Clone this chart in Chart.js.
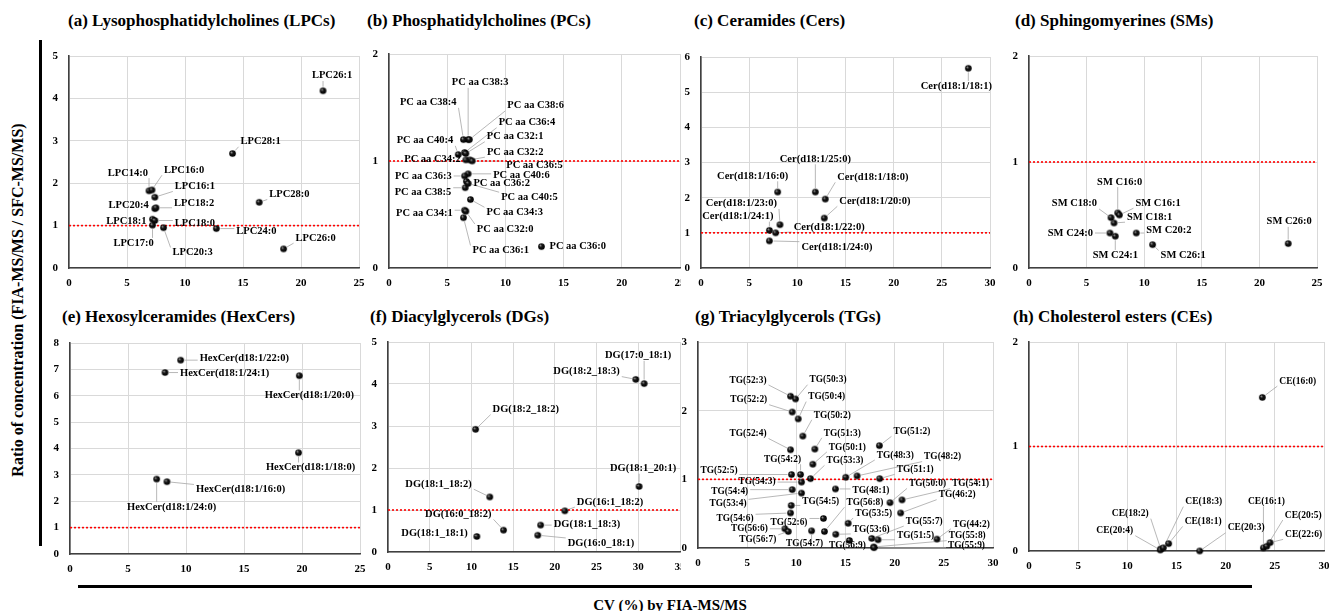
<!DOCTYPE html>
<html>
<head>
<meta charset="utf-8">
<script src="https://cdn.jsdelivr.net/npm/chart.js@4.4.1/dist/chart.umd.min.js"></script>
<style>
    body { margin: 0; background: #fff; width: 1329px; height: 611px; overflow: hidden; position: relative; font-family: "Liberation Serif", serif; }
    .ttl { position: absolute; font-weight: bold; font-size: 17px; white-space: nowrap; line-height: 20px; color: #000; }
    canvas.p { position: absolute; }
    .ax { position: absolute; font-weight: bold; font-size: 15px; white-space: nowrap; color: #000; }
    .bar { position: absolute; background: #000; }
</style>
</head>
<body>

<div class="ttl" style="left:68px;top:11px">(a) Lysophosphatidylcholines (LPCs)</div>
<div class="ttl" style="left:367px;top:11px">(b) Phosphatidylcholines (PCs)</div>
<div class="ttl" style="left:694px;top:11px">(c) Ceramides (Cers)</div>
<div class="ttl" style="left:1015px;top:11px">(d) Sphingomyerines (SMs)</div>
<div class="ttl" style="left:62px;top:307px">(e) Hexosylceramides (HexCers)</div>
<div class="ttl" style="left:370px;top:307px">(f) Diacylglycerols (DGs)</div>
<div class="ttl" style="left:695px;top:307px">(g) Triacylglycerols (TGs)</div>
<div class="ttl" style="left:1013px;top:307px">(h) Cholesterol esters (CEs)</div>

<div class="bar" style="left:39px;top:40px;width:3px;height:506px"></div>
<div class="bar" style="left:78px;top:585px;width:1174px;height:3px"></div>
<div class="ax" style="left:18px;top:300px;font-size:16px;transform:translate(-50%,-50%) rotate(-90deg)">Ratio of concentration (FIA-MS/MS / SFC-MS/MS)</div>
<div class="ax" style="left:670px;top:605px;transform:translate(-50%,-50%)">CV (%) by FIA-MS/MS</div>

<canvas class="p" id="pa"></canvas>
<canvas class="p" id="pb"></canvas>
<canvas class="p" id="pc"></canvas>
<canvas class="p" id="pd"></canvas>
<canvas class="p" id="pe"></canvas>
<canvas class="p" id="pf"></canvas>
<canvas class="p" id="pg"></canvas>
<canvas class="p" id="ph"></canvas>

<script>
// ---- data (x = CV %, y = ratio FIA / SFC) ----
const refRatio = 1;

const lpcNames = ['LPC26:1','LPC28:1','LPC28:0','LPC26:0','LPC24:0','LPC14:0','LPC16:0','LPC16:1','LPC20:4','LPC18:2','LPC18:1','LPC18:0','LPC17:0','LPC20:3'];
const lpcCV = [21.9, 14.1, 16.4, 18.5, 12.7, 6.9, 7.15, 7.4, 7.4, 7.5, 7.2, 7.4, 7.2, 8.15];
const lpcRatio = [4.18, 2.70, 1.55, 0.45, 0.93, 1.82, 1.84, 1.67, 1.40, 1.42, 1.15, 1.12, 1.01, 0.95];

const pcNames = ['PC aa C38:3','PC aa C38:4','PC aa C38:6','PC aa C36:4','PC aa C32:1','PC aa C40:4','PC aa C32:2','PC aa C34:2','PC aa C36:5','PC aa C40:6','PC aa C36:3','PC aa C36:2','PC aa C38:5','PC aa C40:5','PC aa C34:3','PC aa C34:1','PC aa C32:0','PC aa C36:1','PC aa C36:0'];
const pcCV = [6.8, 6.4, 6.9, 6.5, 6.6, 5.95, 6.95, 6.6, 7.15, 6.8, 6.5, 6.65, 6.55, 6.8, 7.0, 6.5, 6.6, 6.4, 13.1];
const pcRatio = [1.20, 1.20, 1.20, 1.08, 1.07, 1.06, 1.01, 1.01, 1.00, 0.88, 0.86, 0.81, 0.75, 0.79, 0.64, 0.54, 0.53, 0.47, 0.20];

const cerNames = ['Cer(d18:1/18:1)','Cer(d18:1/25:0)','Cer(d18:1/16:0)','Cer(d18:1/18:0)','Cer(d18:1/20:0)','Cer(d18:1/23:0)','Cer(d18:1/24:1)','Cer(d18:1/22:0)','Cer(d18:1/24:0)'];
const cerCV = [27.75, 11.87, 7.96, 12.9, 12.8, 8.2, 7.1, 7.75, 7.1];
const cerRatio = [5.68, 2.16, 2.16, 1.96, 1.42, 1.23, 1.07, 1.00, 0.77];

const smNames = ['SM C16:0','SM C16:1','SM C18:0','SM C18:1','SM C24:0','SM C24:1','SM C20:2','SM C26:1','SM C26:0'];
const smCV = [7.7, 7.85, 7.12, 7.38, 7.03, 7.49, 9.31, 10.73, 22.5];
const smRatio = [0.52, 0.50, 0.475, 0.425, 0.33, 0.30, 0.33, 0.22, 0.23];

const hexNames = ['HexCer(d18:1/22:0)','HexCer(d18:1/24:1)','HexCer(d18:1/20:0)','HexCer(d18:1/18:0)','HexCer(d18:1/24:0)','HexCer(d18:1/16:0)'];
const hexCV = [9.54, 8.19, 19.77, 19.7, 7.47, 8.36];
const hexRatio = [7.35, 6.88, 6.76, 3.84, 2.84, 2.74];

const dgNames = ['DG(17:0_18:1)','DG(18:2_18:3)','DG(18:2_18:2)','DG(18:1_20:1)','DG(18:1_18:2)','DG(16:1_18:2)','DG(16:0_18:2)','DG(18:1_18:3)','DG(18:1_18:1)','DG(16:0_18:1)'];
const dgCV = [30.7, 29.7, 10.5, 30.1, 12.2, 21.2, 13.85, 18.3, 10.65, 17.95];
const dgRatio = [4.01, 4.11, 2.92, 1.56, 1.31, 0.98, 0.52, 0.64, 0.37, 0.40];

const tgNames = ['TG(52:3)','TG(50:3)','TG(52:2)','TG(50:4)','TG(50:2)','TG(52:4)','TG(51:3)','TG(50:1)','TG(54:2)','TG(53:3)',
    'TG(52:5)','TG(54:3)','TG(54:4)','TG(53:4)','TG(54:5)','TG(54:6)','TG(52:6)','TG(56:6)','TG(56:7)','TG(54:7)',
    'TG(56:8)','TG(53:6)','TG(56:9)','TG(53:5)','TG(48:3)','TG(48:2)','TG(51:2)','TG(51:1)','TG(48:1)','TG(50:0)',
    'TG(54:1)','TG(46:2)','TG(55:7)','TG(51:5)','TG(44:2)','TG(55:8)','TG(55:9)'];
const tgCV = [9.41, 9.92, 9.58, 10.19, 10.66, 9.41, 11.88, 11.68, 10.43, 11.44,
    9.51, 10.53, 9.58, 10.53, 9.48, 9.41, 12.76, 8.84, 9.18, 11.55,
    12.86, 14.01, 15.4, 15.27, 15.03, 16.18, 18.45, 18.48, 13.98, 19.53,
    20.75, 20.61, 17.67, 18.31, 24.3, 17.87, 17.9];
const tgRatio = [2.21, 2.17, 1.98, 1.88, 1.63, 1.43, 1.44, 1.22, 1.07, 1.01,
    1.07, 0.96, 0.85, 0.80, 0.62, 0.51, 0.43, 0.28, 0.24, 0.25,
    0.24, 0.20, 0.11, 0.36, 1.03, 1.05, 1.49, 1.01, 0.86, 0.66,
    0.70, 0.51, 0.14, 0.12, 0.13, 0.015, 0.005];

const ceNames = ['CE(16:0)','CE(18:2)','CE(20:4)','CE(18:3)','CE(18:1)','CE(20:3)','CE(16:1)','CE(20:5)','CE(22:6)'];
const ceCV = [23.73, 13.4, 13.35, 13.66, 14.2, 17.36, 23.84, 24.18, 24.52];
const ceRatio = [1.47, 0.02, 0.01, 0.03, 0.07, 0.0, 0.03, 0.045, 0.08];

// ---- label placement (px offset from the point, text alignment) ----
const lpcLabelPos = [[9,-15,'c'],[8,-12,'l'],[10,-8,'l'],[12,-11,'l'],[20,3,'l'],[-1,-18,'r'],[12,-20,'l'],[20,-11,'l'],[-6,-3,'r'],[18,-5,'l'],[-6,2,'r'],[20,3,'l'],[-19,18,'c'],[9,25,'l']];
const pcLabelPos = [[12,-57,'c'],[-7,-37,'r'],[38,-34,'l'],[34,-30,'l'],[21,-17,'l'],[-5,-14,'r'],[17,-8,'l'],[-5,-1,'r'],[34,4,'l'],[25,1,'l'],[-13,0,'r'],[7,2,'l'],[-14,5,'r'],[33,14,'l'],[16,13,'l'],[-12,3,'r'],[11,18,'l'],[9,33,'l'],[8,0,'l']];
const cerLabelPos = [[-12,18,'c'],[0,-33,'c'],[-25,-16,'c'],[12,-22,'l'],[15,-17,'l'],[-3,-21,'r'],[4,-14,'r'],[18,-6,'l'],[32,6,'l']];
const smLabelPos = [[2,-31,'c'],[16,-12,'l'],[-14,-14,'r'],[13,-6,'l'],[-17,0,'r'],[0,19,'c'],[10,-3,'l'],[8,11,'l'],[1,-22,'c']];
const hexLabelPos = [[19,-2,'l'],[15,1,'l'],[10,20,'c'],[12,15,'c'],[15,28,'c'],[29,8,'l']];
const dgLabelPos = [[-6,-28,'c'],[-16,-8,'r'],[17,-20,'l'],[4,-18,'c'],[-18,-13,'r'],[12,-9,'l'],[-12,-16,'r'],[13,-1,'l'],[-9,-3,'r'],[30,8,'l']];
const tgLabelPos = [[-24,-16,'r'],[14,-19,'l'],[-25,-12,'r'],[10,-22,'l'],[11,-21,'l'],[-24,-16,'r'],[9,-16,'l'],[16,-17,'l'],[-18,-15,'c'],[16,-18,'l'],
    [-54,-4,'r'],[-26,-1,'r'],[-44,2,'r'],[-55,11,'r'],[11,-4,'l'],[-37,6,'r'],[-16,4,'r'],[-17,0,'r'],[-12,8,'r'],[-7,13,'c'],
    [22,-29,'l'],[17,-5,'l'],[-2,5,'c'],[7,-10,'l'],[31,-22,'l'],[67,-19,'l'],[14,-14,'l'],[17,-9,'l'],[17,2,'l'],[19,-19,'l'],
    [50,-16,'l'],[38,-18,'l'],[34,-17,'l'],[19,-4,'l'],[16,-15,'l'],[75,-11,'l'],[74,-2,'l']];
const ceLabelPos = [[17,-16,'l'],[-12,-35,'r'],[-27,-19,'r'],[22,-46,'l'],[16,-22,'l'],[28,-23,'l'],[3,-46,'c'],[18,-31,'l'],[15,-8,'l']];

// ==============================================
// little shaded ball used as the marker
function makeBall(r) {
    const c = document.createElement('canvas');
    const s = Math.ceil(r * 2 + 2);
    c.width = c.height = s;
    const g = c.getContext('2d');
    const m = s / 2;
    const grd = g.createRadialGradient(m - r * 0.4, m - r * 0.4, 0.2, m, m, r);
    grd.addColorStop(0, '#a0a0a0');
    grd.addColorStop(0.4, '#151515');
    grd.addColorStop(1, '#000');
    g.fillStyle = grd;
    g.beginPath();
    g.arc(m, m, r, 0, Math.PI * 2);
    g.fill();
    return c;
}
const ball = makeBall(3.3);

// ==============================================
function makePanel(id, box, xMax, yMax, names, xs, ys, labelPos, fontPx, padRight) {
    const [L, T, R, B] = box;
    const yW = 30, xH = 28, padTop = 10;
    const cv = document.getElementById(id);
    cv.width = (R - L) + yW + padRight;
    cv.height = (B - T) + padTop + xH;
    cv.style.left = (L - yW) + 'px';
    cv.style.top = (T - padTop) + 'px';

    const labelFont = 'bold ' + fontPx + 'px "Liberation Serif"';

    // callouts: leader lines under the markers, text on top
    function boxes(chart) {
        const ctx = chart.ctx;
        ctx.font = labelFont;
        const meta = chart.getDatasetMeta(0);
        return meta.data.map((pt, i) => {
            const [dx, dy, al] = labelPos[i];
            const w = ctx.measureText(names[i]).width;
            const tx = pt.x + dx, ty = pt.y + dy;
            const x0 = al === 'l' ? tx : al === 'r' ? tx - w : tx - w / 2;
            return { px: pt.x, py: pt.y, x0: x0, y: ty, w: w };
        });
    }
    const callouts = {
        id: 'callouts',
        beforeDatasetsDraw(chart) {
            const ctx = chart.ctx;
            ctx.save();
            ctx.strokeStyle = '#a6a6a6';
            ctx.lineWidth = 0.8;
            boxes(chart).forEach(b => {
                const h = fontPx * 0.5;
                const bx0 = b.x0 - 2, bx1 = b.x0 + b.w + 2;
                const ex = Math.min(Math.max(b.px, bx0), bx1);
                const ey = Math.min(Math.max(b.py, b.y - h), b.y + h);
                const d = Math.hypot(ex - b.px, ey - b.py);
                if (d > 7) {
                    ctx.beginPath();
                    ctx.moveTo(b.px + (ex - b.px) / d * 4, b.py + (ey - b.py) / d * 4);
                    ctx.lineTo(ex, ey);
                    ctx.stroke();
                }
            });
            ctx.restore();
        },
        afterDatasetsDraw(chart) {
            const ctx = chart.ctx;
            ctx.save();
            ctx.font = labelFont;
            ctx.fillStyle = '#000';
            ctx.textAlign = 'left';
            ctx.textBaseline = 'middle';
            boxes(chart).forEach((b, i) => ctx.fillText(names[i], b.x0, b.y));
            ctx.restore();
        }
    };

    const tickFont = { family: '"Liberation Serif"', size: 11, weight: 'bold' };

    return new Chart(cv, {
        type: 'scatter',
        data: {
            datasets: [
                {
                    data: xs.map((x, i) => ({ x: x, y: ys[i] })),
                    pointStyle: ball,
                    pointRadius: 3.3,
                    clip: false,
                    order: 1
                },
                {
                    type: 'line',
                    data: [{ x: 0, y: refRatio }, { x: xMax, y: refRatio }],
                    borderColor: '#ff0000',
                    borderWidth: 1.6,
                    borderDash: [2, 2],
                    pointRadius: 0,
                    order: 2
                }
            ]
        },
        options: {
            animation: false,
            responsive: false,
            maintainAspectRatio: false,
            layout: { padding: { left: 0, top: padTop, right: padRight, bottom: 0 }, autoPadding: false },
            plugins: {
                legend: { display: false },
                tooltip: { enabled: false }
            },
            scales: {
                x: {
                    type: 'linear',
                    min: 0,
                    max: xMax,
                    // fixed height, and no extra room reserved for the end labels
                    afterFit: s => { s.height = xH; s.paddingLeft = 0; s.paddingRight = 0; },
                    ticks: { stepSize: 5, font: tickFont, color: '#000', padding: 9, maxRotation: 0, autoSkip: false },
                    grid: { color: '#d9d9d9', lineWidth: 1, drawTicks: false },
                    border: { color: '#404040', width: 1.6 }
                },
                y: {
                    min: 0,
                    max: yMax,
                    afterFit: s => { s.width = yW; s.paddingTop = 0; s.paddingBottom = 0; },
                    ticks: { stepSize: 1, font: tickFont, color: '#000', padding: 11 },
                    grid: { color: '#d9d9d9', lineWidth: 1, drawTicks: false },
                    border: { color: '#404040', width: 1.6 }
                }
            }
        },
        plugins: [callouts]
    });
}

document.addEventListener('DOMContentLoaded', function () {
    makePanel('pa', [69, 56, 359, 268], 25, 5, lpcNames, lpcCV, lpcRatio, lpcLabelPos, 10.5, 10);
    makePanel('pb', [389, 54, 680, 268], 25, 2, pcNames, pcCV, pcRatio, pcLabelPos, 10.5, 1);
    makePanel('pc', [701, 57, 990, 268], 30, 6, cerNames, cerCV, cerRatio, cerLabelPos, 10.5, 10);
    makePanel('pd', [1029, 56, 1317, 268], 25, 2, smNames, smCV, smRatio, smLabelPos, 10.5, 10);
    makePanel('pe', [70, 343, 360, 554], 25, 8, hexNames, hexCV, hexRatio, hexLabelPos, 10.5, 10);
    makePanel('pf', [388, 342, 680, 552], 35, 5, dgNames, dgCV, dgRatio, dgLabelPos, 10.5, 1);
    makePanel('pg', [698, 342, 993, 548], 30, 3, tgNames, tgCV, tgRatio, tgLabelPos, 9.4, 10);
    makePanel('ph', [1029, 342, 1324, 551], 30, 2, ceNames, ceCV, ceRatio, ceLabelPos, 9.5, 5);
});
</script>
</body>
</html>
